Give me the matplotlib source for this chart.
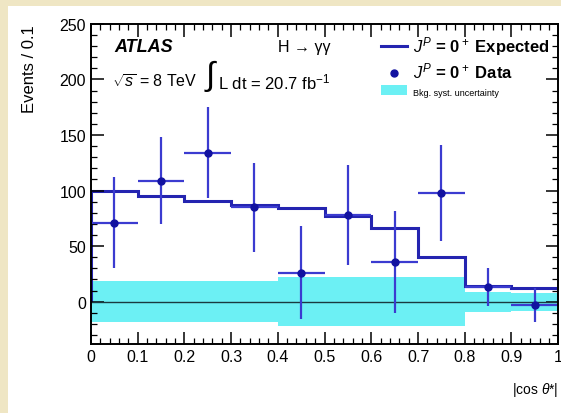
import numpy as np
import matplotlib
matplotlib.use("Agg")
import matplotlib.pyplot as plt
from matplotlib.patches import Rectangle
from matplotlib.ticker import MultipleLocator

plt.rcParams["font.family"] = ["Liberation Sans", "DejaVu Sans"]
plt.rcParams["mathtext.fontset"] = "custom"
plt.rcParams["mathtext.rm"] = "Liberation Sans"
plt.rcParams["mathtext.it"] = "Liberation Sans:italic"

# binned |cos theta*| distribution
bin_edges = [0.0, 0.1, 0.2, 0.3, 0.4, 0.5, 0.6, 0.7, 0.8, 0.9, 1.0]
expected = [100, 95, 91, 87, 84, 77, 66, 40.5, 14, 12]
data = [71, 109, 134, 85, 26, 78, 36, 98, 13, -3]
data_err = [41, 39, 41, 40, 42, 45, 46, 43, 17, 15]
bkg_syst = [18.5, 18.5, 18.5, 18.5, 22, 22, 22, 22, 9, 8]

edges = np.array(bin_edges)
centers = (edges[:-1] + edges[1:]) / 2
half_w = (edges[1:] - edges[:-1]) / 2

fig = plt.figure(figsize=(5.61, 4.14), dpi=100)
fig.patch.set_facecolor("#efe6c4")
fig.patches.append(Rectangle((0.015, 0), 0.985, 0.983, transform=fig.transFigure,
                             facecolor="white", edgecolor="none", zorder=-10))

ax = fig.add_axes([0.162, 0.167, 0.833, 0.773])
ax.set_facecolor("none")

# syst band around zero
band = ax.stairs(np.array(bkg_syst), edges, baseline=-np.array(bkg_syst), fill=True,
                 color="#6cf0f4", linewidth=0, label="Bkg. syst. uncertainty")
ax.axhline(0, color="#1a3a40", linewidth=1.0)

# expected histogram
exp_line = ax.stairs(expected, edges, color="#2424b0", linewidth=2.2,
                     label=r"$J^P$ = 0$^+$ Expected")

# data
eb = ax.errorbar(centers, data, yerr=data_err, xerr=half_w, fmt="o", color="#1212a0",
                 ecolor="#3b3bd0", elinewidth=1.6, markersize=5, capsize=0,
                 label=r"$J^P$ = 0$^+$ Data")

ax.set_xlim(0, 1)
ax.set_ylim(-38, 250)
ax.xaxis.set_major_locator(MultipleLocator(0.1))
ax.xaxis.set_minor_locator(MultipleLocator(0.02))
ax.yaxis.set_major_locator(MultipleLocator(50))
ax.yaxis.set_minor_locator(MultipleLocator(10))
ax.tick_params(which="both", direction="in", top=True, right=True, labelsize=11.5)
ax.tick_params(which="major", length=9, width=1.1)
ax.tick_params(which="minor", length=4.5, width=0.9)
ax.xaxis.set_major_formatter(matplotlib.ticker.FuncFormatter(
    lambda v, p: "0" if v == 0 else ("1" if abs(v - 1) < 1e-9 else f"{v:.1f}")))
for sp in ax.spines.values():
    sp.set_linewidth(1.4)

ax.set_ylabel("Events / 0.1", fontsize=12, loc="top", labelpad=16)
ax.set_xlabel(r"|cos $\theta$*|", fontsize=10, loc="right", labelpad=12)

# annotations
ax.text(0.051, 0.93, "ATLAS", transform=ax.transAxes, fontsize=13,
        fontweight="bold", style="italic", va="center")
ax.text(0.045, 0.82, r"$\sqrt{s}$ = 8 TeV", transform=ax.transAxes, fontsize=11.5,
        va="center")
ax.text(0.243, 0.84, r"$\int$", transform=ax.transAxes, fontsize=24, va="center")
ax.text(0.272, 0.82, r"L dt = 20.7 fb$^{-1}$", transform=ax.transAxes, fontsize=12,
        va="center")
ax.text(0.40, 0.93, "H \u2192 \u03b3\u03b3", transform=ax.transAxes,
        fontsize=11.5, va="center")

leg = ax.legend(handles=[exp_line, eb[0], band],
                labels=[r"$J^P$ = 0$^+$ Expected", r"$J^P$ = 0$^+$ Data",
                        "Bkg. syst. uncertainty"],
                loc="upper right", bbox_to_anchor=(1.0, 0.995), frameon=False,
                handlelength=1.9, handletextpad=0.45, labelspacing=0.3,
                borderaxespad=0.2)
for i, t in enumerate(leg.get_texts()):
    if i < 2:
        t.set_fontsize(12)
        t.set_fontweight("bold")
    else:
        t.set_fontsize(6.5)

fig.savefig("out.png", dpi=100, facecolor=fig.get_facecolor())
